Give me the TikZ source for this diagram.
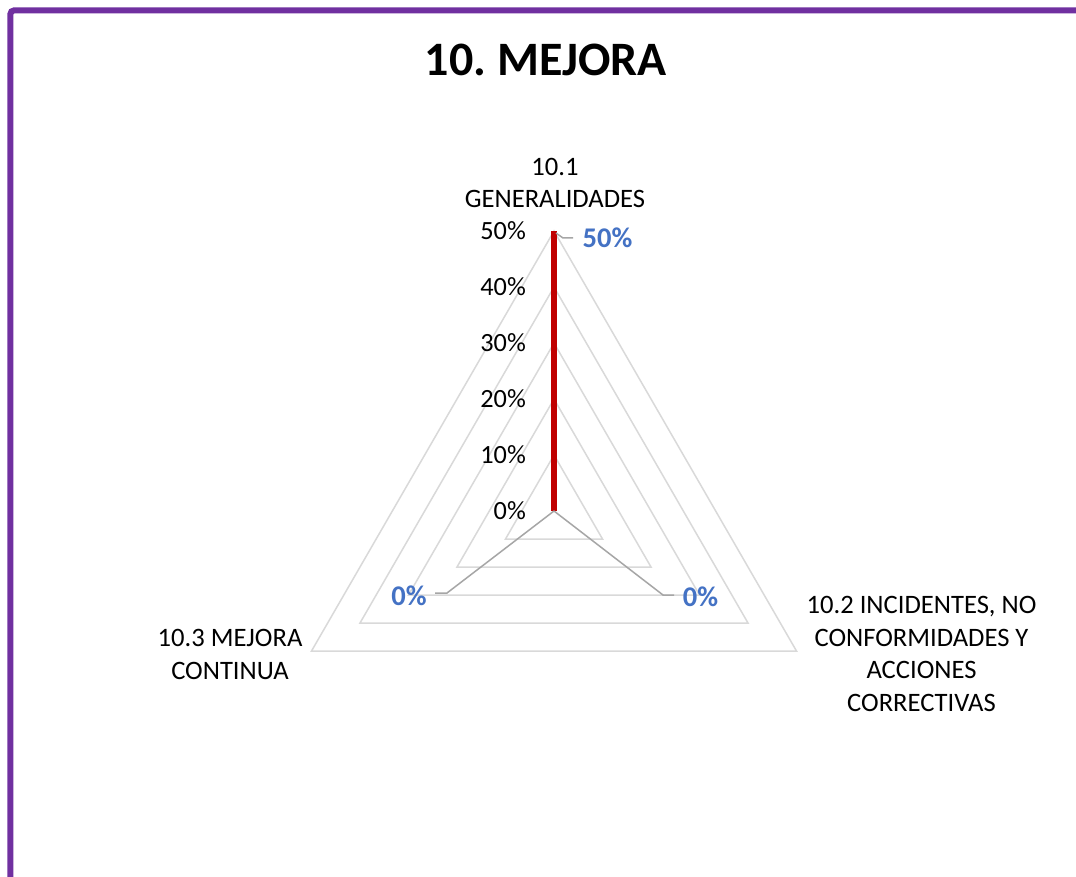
\documentclass[tikz,border=0pt]{standalone}
\usepackage{fontspec}
\setmainfont{Carlito}
\usetikzlibrary{calc}
\frenchspacing
\definecolor{purp}{HTML}{7030A0}
\definecolor{gridc}{HTML}{D9D9D9}
\definecolor{leadc}{HTML}{A6A6A6}
\definecolor{datared}{HTML}{C00000}
\definecolor{lblue}{HTML}{4472C4}
\tikzset{
  gridline/.style={draw=gridc, line width=1.5pt},
  leader/.style={draw=leadc, line width=1.5pt},
  serie/.style={draw=datared, line width=6pt},
  ticklbl/.style={anchor=east, inner sep=0pt, font=\fontsize{26.3}{32}\selectfont},
  catlbl/.style={anchor=base, inner sep=0pt, align=center, font=\fontsize{26.6}{32.4}\selectfont},
  datalbl/.style={anchor=base, inner sep=0pt, text=lblue, font=\fontsize{28.5}{32}\selectfont\bfseries},
}
\begin{document}
\begin{tikzpicture}[x=1pt,y=-1pt]
\useasboundingbox (0,0) rectangle (1076,877);
\fill[white] (0,0) rectangle (1076,877);
% frame
\draw[draw=purp, line width=6pt, rounded corners=4pt] (10.3,10.3) rectangle (1100,900);
% title
\node[anchor=base, inner sep=0pt, font=\fontsize{48}{52}\selectfont\bfseries] (title) at (546,76) {10. MEJORA};
% grid
\coordinate (O) at (554,511);
\foreach \k in {1,...,5}{
  \draw[gridline] ($(O)+(90:-56*\k)$) -- ($(O)+(-30:-56*\k)$) -- ($(O)+(210:-56*\k)$) -- cycle;
}
% tick labels
\foreach \k/\t in {0/0\%,1/10\%,2/20\%,3/30\%,4/40\%,5/50\%}{
  \node[ticklbl] (t\k) at (526,511-56*\k) {\t};
}
% series
\coordinate (P1) at (554,231);
\draw[serie] (O) -- (P1);
% data labels
\node[datalbl] (d1) at (607.5,248) {50\%};
\node[datalbl] (d2) at (700.5,606) {0\%};
\node[datalbl] (d3) at (409,605) {0\%};
% leader lines
\coordinate (L1a) at (563,238);
\coordinate (L1b) at (573,238);
\draw[leader] (556,233) -- (L1a) -- (L1b);
\coordinate (L2a) at (663,595);
\coordinate (L2b) at (674,595);
\draw[leader] (O) -- (L2a) -- (L2b);
\coordinate (L3a) at (447,593);
\coordinate (L3b) at (435,593);
\draw[leader] (O) -- (L3a) -- (L3b);
% category labels (base = last line)
\node[catlbl] (c1) at (555,208) {10.1\\GENERALIDADES};
\node[catlbl] (c2) at (921.5,711) {10.2 INCIDENTES, NO\\CONFORMIDADES Y\\ACCIONES\\CORRECTIVAS};
\node[catlbl] (c3) at (230,679) {10.3 MEJORA\\CONTINUA};
\end{tikzpicture}
\end{document}
